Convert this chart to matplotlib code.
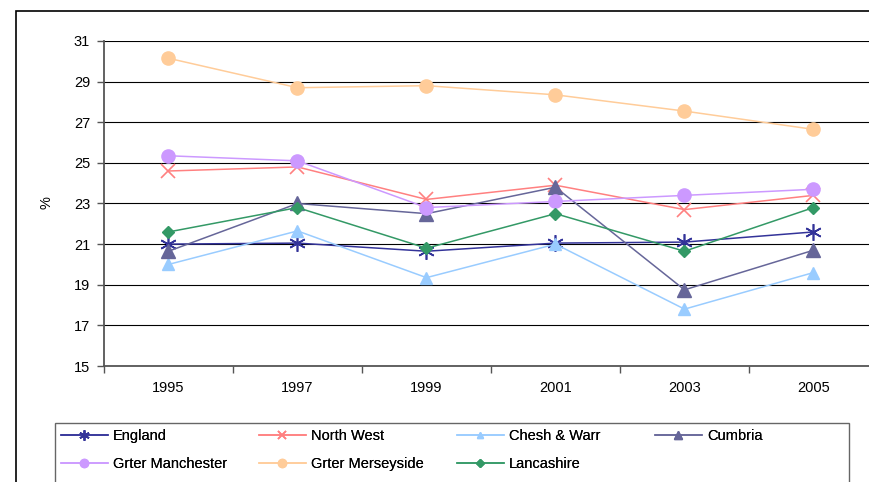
import matplotlib
matplotlib.use('Agg')
import matplotlib.pyplot as plt
from matplotlib.patches import Rectangle

plt.rcParams['font.family'] = ['Liberation Sans', 'DejaVu Sans']

years = ['1995', '1997', '1999', '2001', '2003', '2005']

england = [21.0, 21.05, 20.65, 21.05, 21.1, 21.6]
north_west = [24.6, 24.8, 23.2, 23.9, 22.7, 23.4]
chesh_warr = [20.0, 21.65, 19.35, 21.0, 17.8, 19.6]
cumbria = [20.65, 23.0, 22.5, 23.8, 18.75, 20.7]
grter_manchester = [25.35, 25.1, 22.8, 23.1, 23.4, 23.7]
grter_merseyside = [30.15, 28.7, 28.8, 28.35, 27.55, 26.65]
lancashire = [21.6, 22.8, 20.8, 22.5, 20.65, 22.8]

series = [
    ('England', england, '#333399', (6, 2, 0), 12),
    ('North West', north_west, '#FF8080', 'x', 10),
    ('Chesh & Warr', chesh_warr, '#99CCFF', '^', 8),
    ('Cumbria', cumbria, '#666699', '^', 10),
    ('Grter Manchester', grter_manchester, '#CC99FF', 'o', 9.5),
    ('Grter Merseyside', grter_merseyside, '#FFCC99', 'o', 9.5),
    ('Lancashire', lancashire, '#339966', 'D', 6),
]

fig = plt.figure(figsize=(8.7, 4.82), dpi=100)
ax = fig.add_axes([104 / 870, 1 - 366 / 482, 774 / 870, 325 / 482])

x = list(range(len(years)))
lines = []
for name, vals, col, mk, ms in series:
    ln, = ax.plot(x, vals, color=col, marker=mk, markersize=ms, linewidth=1.1,
                  markeredgewidth=1.2 if mk in ('x', (6, 2, 0)) else 1,
                  markeredgecolor=col, markerfacecolor=col, label=name)
    lines.append(ln)

ax.set_xlim(-0.5, 5.5)
ax.set_ylim(15, 31)
ax.set_yticks(range(15, 32, 2))
ax.yaxis.grid(True, color='black', linewidth=0.8)
ax.set_axisbelow(True)

# category axis: ticks between categories, labels at categories
ax.set_xticks([i + 0.5 for i in range(-1, 6)])
ax.set_xticklabels([])
ax.set_xticks(x, minor=True)
ax.set_xticklabels(years, minor=True)
ax.tick_params(axis='x', which='major', length=5, width=1, color='#555555', direction='out')
ax.tick_params(axis='x', which='minor', length=0, pad=11, labelsize=10.5)
ax.tick_params(axis='y', length=5, width=1, color='#555555', pad=5, labelsize=10.5)

for s in ['top', 'right']:
    ax.spines[s].set_visible(False)
for s in ['left', 'bottom']:
    ax.spines[s].set_color('#555555')
    ax.spines[s].set_linewidth(1.3)

fig.text(47 / 870, 1 - 203 / 482, '%', rotation=90, ha='center', va='center', fontsize=10.5)

# outer chart frame
fig.patches.append(Rectangle((16 / 870, -0.1), 1.0, 1 - 11 / 482 + 0.1,
                             transform=fig.transFigure, fill=False,
                             edgecolor='black', linewidth=1.2))

# legend box, filled row by row, equal column widths
fig.patches.append(Rectangle((55 / 870, -0.1), (849 - 55) / 870, 1 - 423 / 482 + 0.1,
                             transform=fig.transFigure, fill=False,
                             edgecolor='#666666', linewidth=1.0))
col_x = [61, 259, 457, 655]
for c in range(4):
    idx = [i for i in (c, c + 4) if i < len(lines)]
    lg = fig.legend([lines[i] for i in idx], [series[i][0] for i in idx],
                    loc='upper left', bbox_to_anchor=(col_x[c] / 870, 1 - 429 / 482),
                    frameon=False, fontsize=10.5, markerscale=0.62,
                    handlelength=3.2, handletextpad=0.35, borderpad=0,
                    borderaxespad=0, labelspacing=0.95)
    fig.add_artist(lg)

fig.savefig('out.png', dpi=100)
